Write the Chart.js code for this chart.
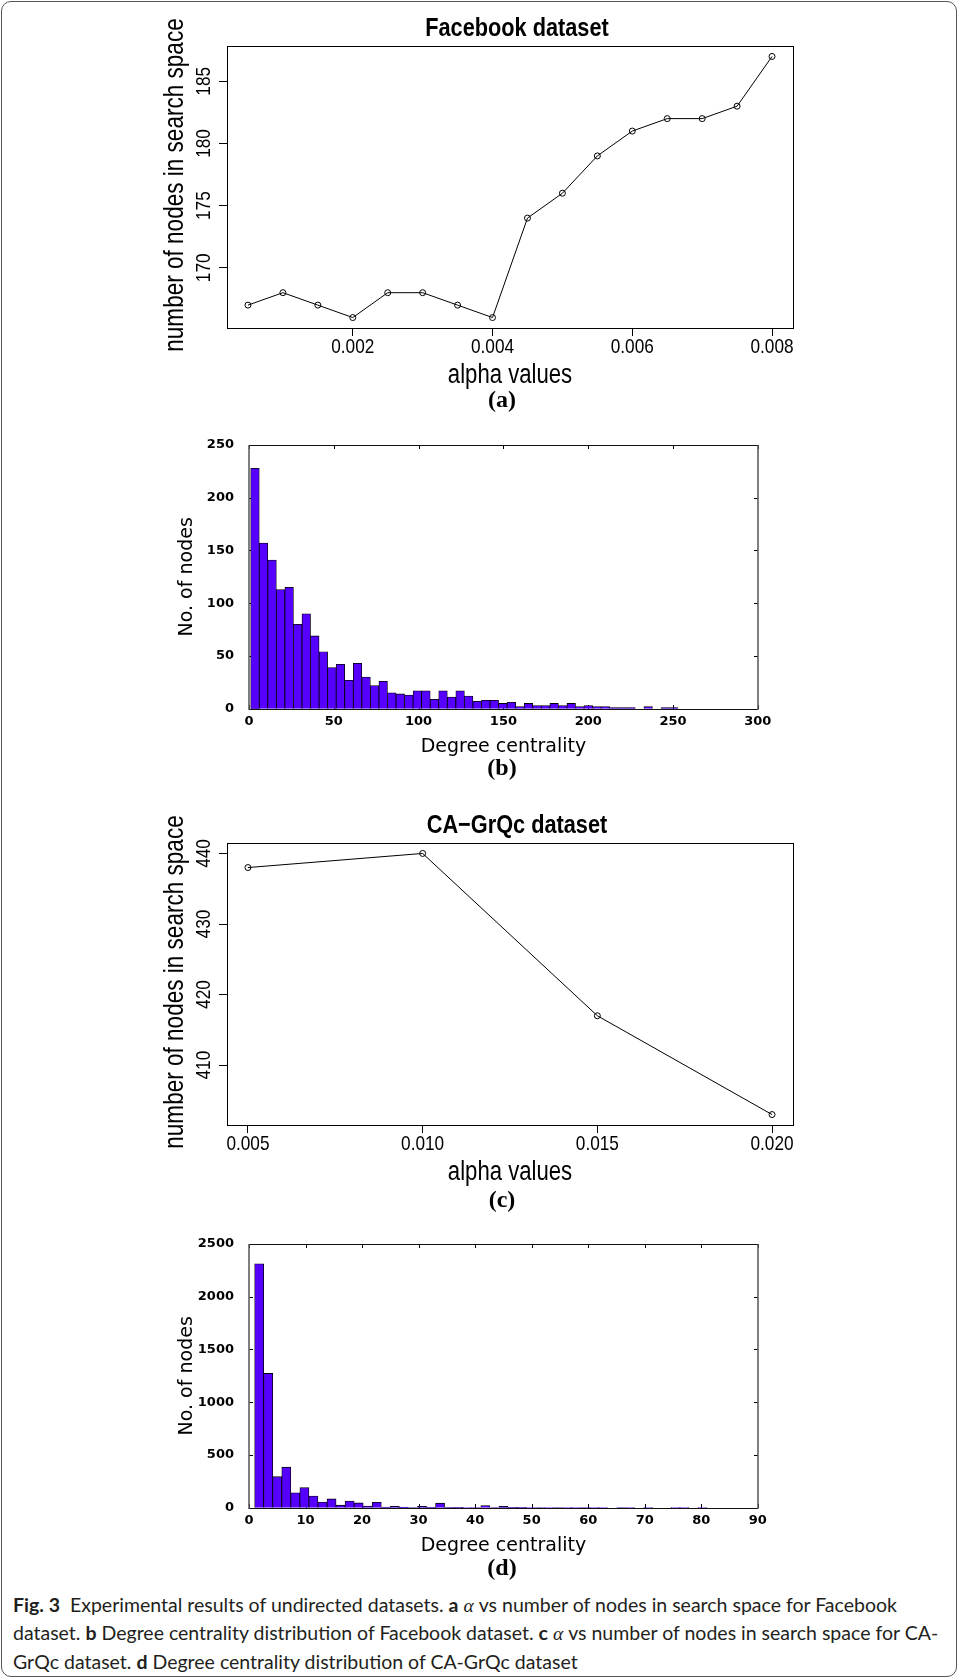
<!DOCTYPE html>
<html>
<head>
<meta charset="utf-8">
<script src="https://cdn.jsdelivr.net/npm/chart.js@4.4.1/dist/chart.umd.min.js"></script>
<style>
  html, body { margin: 0; padding: 0; background: #fff; }
  body { width: 959px; height: 1679px; position: relative; overflow: hidden; }
  .frame { position: absolute; left: 1px; top: 1px; width: 953.5px; height: 1673.5px;
           border: 1.5px solid #555; border-radius: 10px; }
  canvas { position: absolute; left: 0; }
  .sub { position: absolute; width: 60px; margin-left: -30px; text-align: center;
         font: bold 24px "Liberation Serif", "Times New Roman", serif; line-height: 28px; color: #000; }
  .caption { position: absolute; left: 13px; top: 1591px; white-space: nowrap;
             font: 19.5px Lato, "Liberation Sans", sans-serif; line-height: 27.4px; color: #231f20; }
  .caption i { font-family: "Liberation Serif", serif; }
</style>
</head>
<body>
<div class="frame"></div>

<canvas id="chartA" width="959" height="420" style="top:0px"></canvas>
<canvas id="chartB" width="959" height="370" style="top:400px"></canvas>
<canvas id="chartC" width="959" height="420" style="top:797px"></canvas>
<canvas id="chartD" width="959" height="370" style="top:1199px"></canvas>

<div class="sub" style="left:502px; top:385px">(a)</div>
<div class="sub" style="left:502px; top:753px">(b)</div>
<div class="sub" style="left:502px; top:1185px">(c)</div>
<div class="sub" style="left:502px; top:1553px">(d)</div>

<div class="caption"><b>Fig. 3</b>&nbsp; Experimental results of undirected datasets. <b>a</b> <i>α</i> vs number of nodes in search space for Facebook<br>dataset. <b>b</b> Degree centrality distribution of Facebook dataset. <b>c</b> <i>α</i> vs number of nodes in search space for CA-<br>GrQc dataset. <b>d</b> Degree centrality distribution of CA-GrQc dataset</div>

<script>
// (a) Facebook: alpha vs nodes in search space
const alphaFb = [0.0005, 0.0010, 0.0015, 0.0020, 0.0025, 0.0030, 0.0035, 0.0040,
                 0.0045, 0.0050, 0.0055, 0.0060, 0.0065, 0.0070, 0.0075, 0.0080];
const nodesFb = [167, 168, 167, 166, 168, 168, 167, 166, 174, 176, 179, 181, 182, 182, 183, 187];
const xTicksFb = [0.002, 0.004, 0.006, 0.008];
const xLabelsFb = ['0.002', '0.004', '0.006', '0.008'];
const yTicksFb = [170, 175, 180, 185];
const yLabelsFb = ['170', '175', '180', '185'];

// (c) CA-GrQc: alpha vs nodes in search space
const alphaGr = [0.005, 0.010, 0.015, 0.020];
const nodesGr = [438, 440, 417, 403];
const xTicksGr = [0.005, 0.010, 0.015, 0.020];
const xLabelsGr = ['0.005', '0.010', '0.015', '0.020'];
const yTicksGr = [410, 420, 430, 440];
const yLabelsGr = ['410', '420', '430', '440'];

// (b) Facebook degree histogram, 50 bins
const binStartFb = 1;
const binWidthFb = 5.04;
const countsFb = [228, 157, 141, 113, 115, 80, 90, 69, 54, 39,
                  42, 27, 43, 30, 22, 26, 15, 14, 13, 17,
                  17, 9, 17, 11, 17, 12, 7, 8, 8, 5,
                  6, 2, 5, 3, 3, 5, 3, 5, 2, 3,
                  2, 2, 1, 1, 1, 0, 2, 0, 1, 1];

// (d) CA-GrQc degree histogram, 50 bins
const binStartGr = 1;
const binWidthGr = 1.6;
const countsGr = [2312, 1273, 294, 384, 141, 190, 111, 54, 83, 24,
                  63, 45, 16, 52, 6, 14, 7, 2, 14, 3,
                  43, 4, 3, 1, 2, 21, 2, 12, 3, 3,
                  1, 2, 1, 2, 1, 1, 2, 1, 1, 0,
                  2, 1, 0, 1, 0, 0, 1, 1, 0, 1];

const RFONT = '"Liberation Sans", Arial, sans-serif';
const GFONT = '"DejaVu Sans", sans-serif';
const VIOLET = '#5600ff';
const NARROW = 0.82;   // R device text is a narrow sans

Chart.defaults.color = '#000';
Chart.defaults.animation = false;

function narrowText(ctx, text, x, y, size, bold, vertical, baseline) {
  ctx.save();
  ctx.translate(x, y);
  if (vertical) ctx.rotate(-Math.PI / 2);
  ctx.scale(NARROW, 1);
  ctx.font = (bold ? 'bold ' : '') + size + 'px ' + RFONT;
  ctx.fillStyle = '#000';
  ctx.textAlign = 'center';
  ctx.textBaseline = baseline || 'middle';
  ctx.fillText(text, 0, 0);
  ctx.restore();
}

// R style box, title, axis labels and tick labels
const rFrame = {
  id: 'rFrame',
  afterDraw(chart, args, opts) {
    const {ctx, chartArea: a, scales: {x, y}} = chart;
    ctx.save();
    ctx.strokeStyle = '#000';
    ctx.lineWidth = 1;
    ctx.strokeRect(Math.round(a.left) + 0.5, Math.round(a.top) + 0.5,
                   Math.round(a.right - a.left), Math.round(a.bottom - a.top));
    ctx.restore();

    const midX = (a.left + a.right) / 2;
    const midY = (a.top + a.bottom) / 2;
    narrowText(ctx, opts.title, midX + 7, a.top - 17.5, 26.5, true, false);
    opts.xValues.forEach((v, i) => {
      narrowText(ctx, opts.xLabels[i], x.getPixelForValue(v), a.bottom + 19.5, 21, false, false);
    });
    opts.yValues.forEach((v, i) => {
      narrowText(ctx, opts.yLabels[i], a.left - 17.5, y.getPixelForValue(v), 21, false, true, 'alphabetic');
    });
    narrowText(ctx, opts.xTitle, midX, a.bottom + 48, 27, false, false);
    narrowText(ctx, opts.yTitle, a.left - 52, midY - 2, 27.5, false, true);
  }
};

// inner tick marks and border for the histograms
const gFrame = {
  id: 'gFrame',
  beforeDatasetsDraw(chart) {
    const {ctx, chartArea: a, scales: {x, y}} = chart;
    const L = Math.round(a.left), R = Math.round(a.right), T = Math.round(a.top), B = Math.round(a.bottom);
    ctx.save();
    ctx.strokeStyle = '#000';
    ctx.lineWidth = 1;
    ctx.beginPath();
    x.ticks.forEach(t => {
      const px = Math.round(x.getPixelForValue(t.value)) + 0.5;
      ctx.moveTo(px, T); ctx.lineTo(px, T + 4);
      ctx.moveTo(px, B); ctx.lineTo(px, B - 4);
    });
    y.ticks.forEach(t => {
      const py = Math.round(y.getPixelForValue(t.value)) + 0.5;
      ctx.moveTo(L, py); ctx.lineTo(L + 4, py);
      ctx.moveTo(R, py); ctx.lineTo(R - 4, py);
    });
    ctx.stroke();
    ctx.restore();
  },
  afterDatasetsDraw(chart) {
    const {ctx, chartArea: a} = chart;
    const L = Math.round(a.left), R = Math.round(a.right), T = Math.round(a.top), B = Math.round(a.bottom);
    ctx.save();
    ctx.lineWidth = 1;
    ctx.strokeStyle = '#111';
    ctx.beginPath();
    ctx.moveTo(L, T + 0.5); ctx.lineTo(R, T + 0.5);
    ctx.moveTo(L, B + 0.5); ctx.lineTo(R, B + 0.5);
    ctx.stroke();
    ctx.lineWidth = 1.5;
    ctx.strokeStyle = '#555';
    ctx.beginPath();
    ctx.moveTo(L, T); ctx.lineTo(L, B + 1);
    ctx.moveTo(R, T); ctx.lineTo(R, B + 1);
    ctx.stroke();
    ctx.restore();
  }
};

function lineChart(id, title, xs, ys, xRange, yRange, xTicks, xLabels, yTicks, yLabels) {
  return new Chart(document.getElementById(id), {
    type: 'line',
    data: {
      datasets: [{
        data: xs.map((x, i) => ({x: x, y: ys[i]})),
        borderColor: '#000',
        borderWidth: 1,
        tension: 0,
        pointRadius: 3,
        pointBorderWidth: 1,
        pointBorderColor: '#000',
        pointBackgroundColor: 'rgba(0,0,0,0)'
      }]
    },
    options: {
      responsive: false,
      devicePixelRatio: 1,
      events: [],
      layout: {padding: {left: 140, right: 166, top: 46, bottom: 0}},
      plugins: {
        legend: {display: false},
        tooltip: {enabled: false},
        rFrame: {
          title: title, xTitle: 'alpha values', yTitle: 'number of nodes in search space',
          xValues: xTicks, xLabels: xLabels, yValues: yTicks, yLabels: yLabels
        }
      },
      scales: {
        x: {
          type: 'linear', min: xRange[0], max: xRange[1],
          afterBuildTicks: s => { s.ticks = xTicks.map(v => ({value: v})); },
          afterFit: s => { s.height = 92; s.paddingLeft = 0; s.paddingRight = 0; },
          ticks: {display: false},
          grid: {drawOnChartArea: false, tickLength: 8, color: '#000', lineWidth: 1},
          border: {display: false}
        },
        y: {
          min: yRange[0], max: yRange[1],
          afterBuildTicks: s => { s.ticks = yTicks.map(v => ({value: v})); },
          afterFit: s => { s.width = 87; s.paddingTop = 0; s.paddingBottom = 0; },
          ticks: {display: false},
          grid: {drawOnChartArea: false, tickLength: 8, color: '#000', lineWidth: 1},
          border: {display: false}
        }
      }
    },
    plugins: [rFrame]
  });
}

function histChart(id, counts, binStart, binWidth, xMax, xStep, yMax, yStep) {
  const tickFont = {family: GFONT, size: 13, weight: 'bold'};
  return new Chart(document.getElementById(id), {
    type: 'bar',
    data: {
      datasets: [{
        data: counts.map((c, i) => ({x: binStart + binWidth * (i + 0.5), y: c})),
        backgroundColor: VIOLET,
        borderColor: '#000',
        borderWidth: 0.8,
        borderSkipped: 'bottom',
        barPercentage: 1,
        categoryPercentage: 1
      }]
    },
    options: {
      responsive: false,
      devicePixelRatio: 1,
      events: [],
      layout: {padding: {left: 150, right: 201.2, top: 45, bottom: 0}},
      plugins: {legend: {display: false}, tooltip: {enabled: false}},
      scales: {
        x: {
          type: 'linear', min: 0, max: xMax, offset: false,
          afterFit: s => { s.height = 61.3; s.paddingLeft = 0; s.paddingRight = 0; },
          ticks: {stepSize: xStep, autoSkip: false, maxRotation: 0, padding: 5, color: '#000',
                  font: tickFont, callback: v => String(v)},
          grid: {display: false, drawTicks: false, offset: false},
          border: {display: false},
          title: {
            display: true, text: 'Degree centrality', color: '#000',
            font: {family: GFONT, size: 19}, padding: {top: 0, bottom: 12}
          }
        },
        y: {
          min: 0, max: yMax,
          afterFit: s => { s.width = 99; s.paddingTop = 0; s.paddingBottom = 0; },
          ticks: {stepSize: yStep, padding: 15, color: '#000', font: tickFont, callback: v => String(v)},
          grid: {display: false, drawTicks: false},
          border: {display: false},
          title: {
            display: true, text: 'No. of nodes', color: '#000',
            font: {family: GFONT, size: 19}, padding: {top: 25.6, bottom: 0}
          }
        }
      }
    },
    plugins: [gFrame]
  });
}

lineChart('chartA', 'Facebook dataset', alphaFb, nodesFb, [0.0002, 0.0083], [165.16, 187.84],
          xTicksFb, xLabelsFb, yTicksFb, yLabelsFb);
histChart('chartB', countsFb, binStartFb, binWidthFb, 300, 50, 250, 50);
lineChart('chartC', 'CA\u2212GrQc dataset', alphaGr, nodesGr, [0.0044, 0.0206], [401.52, 441.48],
          xTicksGr, xLabelsGr, yTicksGr, yLabelsGr);
histChart('chartD', countsGr, binStartGr, binWidthGr, 90, 10, 2500, 500);
</script>
</body>
</html>
